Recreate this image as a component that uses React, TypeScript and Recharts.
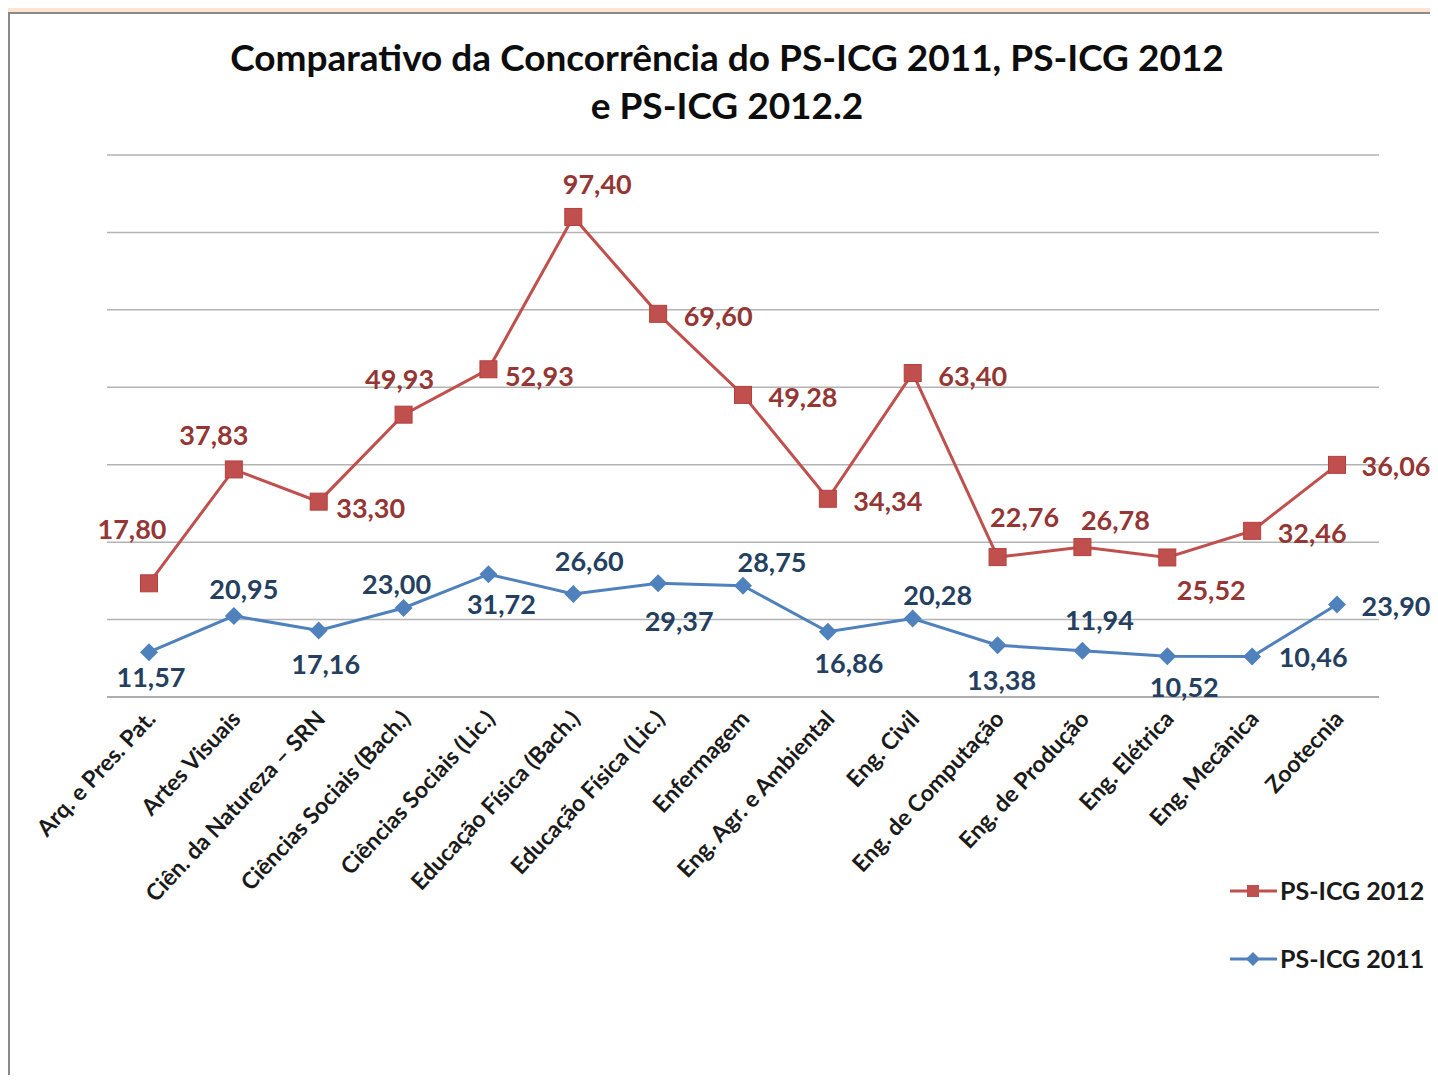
import React from "react"
import { ComposedChart, Area, XAxis, YAxis, CartesianGrid, LabelList } from "recharts"

const cursos = [
  "Arq. e Pres. Pat.",
  "Artes Visuais",
  "Ciên. da Natureza – SRN",
  "Ciências Sociais (Bach.)",
  "Ciências Sociais (Lic.)",
  "Educação Física (Bach.)",
  "Educação Física (Lic.)",
  "Enfermagem",
  "Eng. Agr. e Ambiental",
  "Eng. Civil",
  "Eng. de Computação",
  "Eng. de Produção",
  "Eng. Elétrica",
  "Eng. Mecânica",
  "Zootecnia",
]

const ps2011 = [11.57, 20.95, 17.16, 23.0, 31.72, 26.6, 29.37, 28.75, 16.86, 20.28, 13.38, 11.94, 10.52, 10.46, 23.9]
const ps2012 = [17.8, 37.83, 33.3, 49.93, 52.93, 97.4, 69.6, 49.28, 34.34, 63.4, 22.76, 26.78, 25.52, 32.46, 36.06]

const yTicks = [0, 20, 40, 60, 80, 100, 120, 140]

// where each data label sits, relative to its marker (label centre)
const pos2012 = [
  [-17, -55], [-20, -35], [52, 6], [-4, -36], [51, 6], [24, -33], [60, 2], [60, 2],
  [60, 2], [60, 2], [27, -41], [33, -28], [44, 32], [60, 2], [59, 1],
]
const pos2011 = [
  [2, 24], [10, -27], [7, 33], [-7, -24], [13, 29], [16, -34], [21, 37], [29, -24],
  [21, 31], [25, -24], [4, 34], [17, -31], [17, 30], [61, 0], [59, 1],
]

const data = cursos.map((c, i) => ({ curso: c, v2011: ps2011[i], v2012: ps2012[i] }))

const RED = "#C0504D"
const BLUE = "#4F81BD"
const FONT = "Lato, 'Open Sans', sans-serif"

const fmt = (v: number) => v.toFixed(2).replace(".", ",")

const squareDot = (p: any) => (
  <rect key={`sq-${p.index}`} x={p.cx - 8.5} y={p.cy - 8.5} width={17} height={17} fill={RED} stroke="#B4403D" />
)

const diamondDot = (p: any) => (
  <polygon
    key={`dm-${p.index}`}
    points={`${p.cx},${p.cy - 9} ${p.cx + 9},${p.cy} ${p.cx},${p.cy + 9} ${p.cx - 9},${p.cy}`}
    fill={BLUE}
  />
)

const makeLabel = (offsets: number[][], color: string) => (p: any) => {
  const [dx, dy] = offsets[p.index] || [0, 0]
  return (
    <text
      x={p.x + dx}
      y={p.y + dy}
      textAnchor="middle"
      dominantBaseline="central"
      fontFamily={FONT}
      fontWeight={700}
      fontSize={27}
      fill={color}
    >
      {fmt(Number(p.value))}
    </text>
  )
}

const CursoTick = (props: any) => {
  const { x, y, payload } = props
  return (
    <text
      transform={`translate(${x + 8},${y + 15}) rotate(-47)`}
      textAnchor="end"
      fontFamily={FONT}
      fontWeight={700}
      fontSize={23}
      fill="#1a1a1a"
    >
      {payload.value}
    </text>
  )
}

export default function App() {
  return (
    <div style={{ position: "relative", width: 1438, height: 1083, margin: -8, background: "#FCE4D0", overflow: "hidden" }}>
      <div
        style={{
          position: "absolute",
          left: 8,
          top: 12,
          width: 1440,
          height: 1080,
          background: "#fff",
          borderLeft: "2px solid #8a8a8a",
          borderTop: "2px solid #8a8a8a",
        }}
      />
      <div style={{ position: "absolute", left: 0, top: 0 }}>
        <ComposedChart width={1438} height={1083} data={data} margin={{ top: 155, right: 59, left: 107, bottom: 186 }}>
          <CartesianGrid vertical={false} stroke="#b3b3b3" strokeWidth={1.5} />
          <XAxis
            dataKey="curso"
            interval={0}
            height={200}
            padding={{ left: 42, right: 42 }}
            tickLine={false}
            axisLine={{ stroke: "#a6a6a6", strokeWidth: 1.5 }}
            tick={<CursoTick />}
          />
          <YAxis hide domain={[0, 140]} ticks={yTicks} />
          <Area
            type="linear"
            dataKey="v2011"
            stackId="ps"
            stroke={BLUE}
            strokeWidth={3}
            fill="none"
            dot={diamondDot}
            activeDot={false}
            isAnimationActive={false}
          >
            <LabelList dataKey="v2011" content={makeLabel(pos2011, "#243F60")} />
          </Area>
          <Area
            type="linear"
            dataKey="v2012"
            stackId="ps"
            stroke={RED}
            strokeWidth={3}
            fill="none"
            dot={squareDot}
            activeDot={false}
            isAnimationActive={false}
          >
            <LabelList dataKey="v2012" content={makeLabel(pos2012, "#943634")} />
          </Area>
        </ComposedChart>
      </div>
      <svg width={1438} height={1083} style={{ position: "absolute", left: 0, top: 0, pointerEvents: "none" }}>
        <g fontFamily={FONT} fontWeight={700} fill="#0d0d0d">
          <text x={727} y={71} textAnchor="middle" fontSize={37}>
            Comparativo da Concorrência do PS-ICG 2011, PS-ICG 2012
          </text>
          <text x={727} y={119} textAnchor="middle" fontSize={37}>
            e PS-ICG 2012.2
          </text>
        </g>
        <g>
          <line x1={1230} y1={891} x2={1277} y2={891} stroke={RED} strokeWidth={3} />
          <rect x={1247} y={885} width={12} height={12} fill={RED} />
          <text x={1280} y={900} fontFamily={FONT} fontWeight={700} fontSize={25} fill="#1a1a1a">
            PS-ICG 2012
          </text>
          <line x1={1230} y1={959} x2={1277} y2={959} stroke={BLUE} strokeWidth={3} />
          <polygon points="1253,952 1260,959 1253,966 1246,959" fill={BLUE} />
          <text x={1280} y={968} fontFamily={FONT} fontWeight={700} fontSize={25} fill="#1a1a1a">
            PS-ICG 2011
          </text>
        </g>
      </svg>
    </div>
  )
}
